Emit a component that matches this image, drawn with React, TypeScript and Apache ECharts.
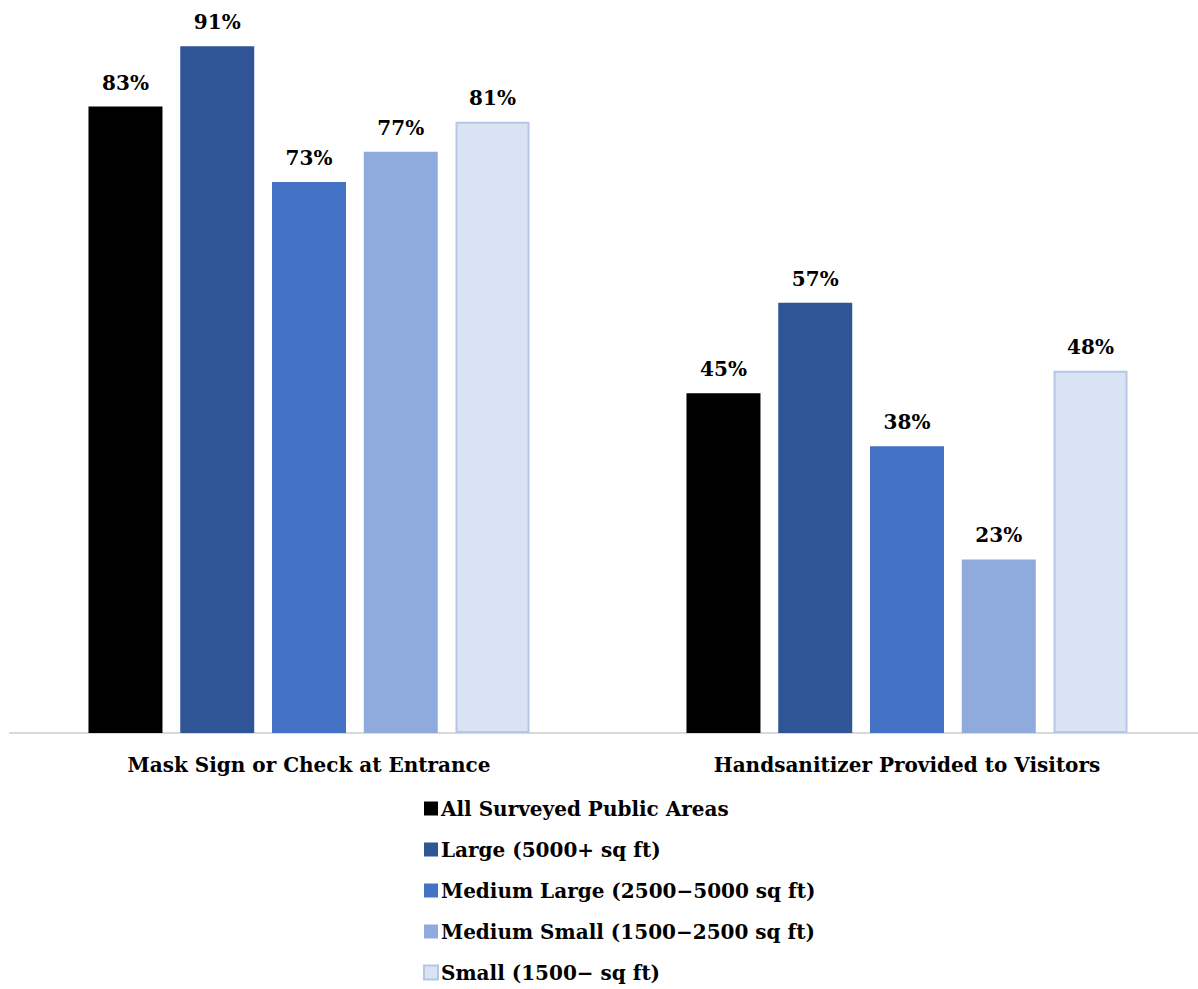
import React, { useEffect, useRef } from "react";
import * as echarts from "echarts";

const categories = ["Mask Sign or Check at Entrance", "Handsanitizer Provided to Visitors"];
const seriesNames = [
  "All Surveyed Public Areas",
  "Large (5000+ sq ft)",
  "Medium Large (2500\u22125000 sq ft)",
  "Medium Small (1500\u22122500 sq ft)",
  "Small (1500\u2212 sq ft)",
];
const allAreas = [83, 45];
const large = [91, 57];
const mediumLarge = [73, 38];
const mediumSmall = [77, 23];
const small = [81, 48];

const seriesValues = [allAreas, large, mediumLarge, mediumSmall, small];
const colors = ["#000000", "#2f5597", "#4472c4", "#8faadc", "#dae3f3"];
const FONT = "'DejaVu Serif', 'Liberation Serif', serif";

export default function App() {
  const ref = useRef<HTMLDivElement>(null);
  useEffect(() => {
    if (!ref.current) return;
    const chart = echarts.init(ref.current, undefined, { renderer: "svg" });
    chart.setOption({
      animation: false,
      backgroundColor: "#ffffff",
      textStyle: { fontFamily: FONT },
      grid: { left: 10, width: 1196, top: 16, bottom: 256 },
      legend: {
        orient: "vertical",
        left: 418,
        top: 793,
        height: 196,
        itemWidth: 14,
        itemHeight: 14,
        itemGap: 20,
        icon: "rect",
        textStyle: { fontFamily: FONT, fontWeight: "bold", fontSize: 20, color: "#000", lineHeight: 21, padding: [0, 0, 0, -2] },
        data: seriesNames,
      },
      xAxis: {
        type: "category",
        data: categories,
        axisLine: { lineStyle: { color: "#d9d9d9", width: 2 } },
        axisTick: { show: false },
        axisLabel: { fontFamily: FONT, fontWeight: "bold", fontSize: 20, color: "#000", margin: 22 },
      },
      yAxis: { type: "value", min: 0, max: 95, show: false, splitLine: { show: false } },
      series: seriesNames.map((name, i) => ({
        name,
        type: "bar",
        data: seriesValues[i],
        barWidth: 74,
        barGap: "24%",
        itemStyle: {
          color: colors[i],
          borderColor: i === 4 ? "#b4c7e7" : colors[i],
          borderWidth: i === 4 ? 2 : 0,
        },
        label: {
          show: true,
          position: "top",
          distance: 14,
          formatter: "{c}%",
          fontFamily: FONT,
          fontWeight: "bold",
          fontSize: 20,
          color: "#000",
        },
      })),
    });
    return () => chart.dispose();
  }, []);
  return (
    <div style={{ width: 1198, height: 989, position: "absolute", left: 0, top: 0, overflow: "hidden" }}>
      <div ref={ref} style={{ width: 1230, height: 989 }} />
    </div>
  );
}
